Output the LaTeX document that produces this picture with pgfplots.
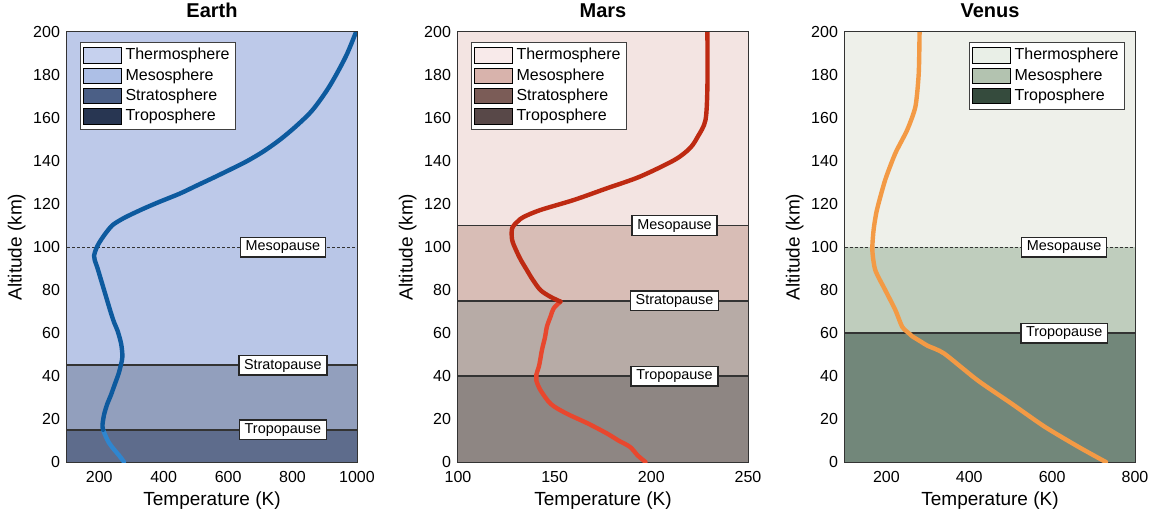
\documentclass[border=0pt]{standalone}
\usepackage{pgfplots}
\pgfplotsset{compat=1.18}
\usepackage{fontspec}
\setmainfont{Liberation Sans}

% band fills
\definecolor{eThermo}{HTML}{BDC9E9}
\definecolor{eMeso}{HTML}{B9C6E7}
\definecolor{eStrato}{HTML}{929FBD}
\definecolor{eTropo}{HTML}{5E6C8C}
\definecolor{mThermo}{HTML}{F3E4E2}
\definecolor{mMeso}{HTML}{D8BDB6}
\definecolor{mStrato}{HTML}{B7ABA6}
\definecolor{mTropo}{HTML}{8E8683}
\definecolor{vThermo}{HTML}{EEF0EA}
\definecolor{vMeso}{HTML}{BFCDBD}
\definecolor{vTropo}{HTML}{72877A}
% legend patches
\definecolor{eThermoL}{HTML}{C6D1EE}
\definecolor{eMesoL}{HTML}{ADBFE6}
\definecolor{eStratoL}{HTML}{4B5F86}
\definecolor{eTropoL}{HTML}{283652}
\definecolor{mThermoL}{HTML}{F8EAEA}
\definecolor{mMesoL}{HTML}{D8B3AC}
\definecolor{mStratoL}{HTML}{7B5C57}
\definecolor{mTropoL}{HTML}{584848}
\definecolor{vThermoL}{HTML}{E9EFE7}
\definecolor{vMesoL}{HTML}{B3C3B0}
\definecolor{vTropoL}{HTML}{354B3D}
% temperature profiles
\definecolor{eLine}{HTML}{0D5A9E}
\definecolor{eLineLow}{HTML}{2F86CF}
\definecolor{mLine}{HTML}{BE2A12}
\definecolor{mLineLow}{HTML}{E8472E}
\definecolor{vLine}{HTML}{F39A45}
\definecolor{pauseLine}{HTML}{333333}

\pgfplotsset{
  patch legend/.style={legend image code/.code={\fill[##1] (0pt,-3.9pt) rectangle (19pt,3.9pt);}},
  atmo/.style={
    width=145pt, height=215pt, scale only axis,
    anchor=south west,
    ymin=0, ymax=200, ytick={0,20,...,200},
    axis line style={black!80, line width=0.6pt},
    tick style={black, line width=0.8pt},
    major tick length=2.5pt,
    tick align=inside,
    /pgf/number format/assume math mode=true,
    /pgf/number format/1000 sep={},
    tick label style={font=\fontsize{8}{9.6}\selectfont},
    xticklabel style={yshift=-1pt},
    label style={font=\fontsize{9.5}{11}\selectfont},
    title style={font=\bfseries\fontsize{10}{12}\selectfont, yshift=-2.5pt},
    xlabel={Temperature (K)},
    ylabel={Altitude (km)},
    ylabel style={yshift=-3pt},
    xlabel style={yshift=2pt},
    legend style={draw=black!75, line width=0.5pt, fill=white,
      font=\fontsize{8}{9}\selectfont, inner sep=1pt, row sep=-1.2pt,
      cells={anchor=west}},
    legend cell align=left,
  },
  band/.style={draw=none, forget plot},
  pause/.style={pauseLine, line width=1.2pt, forget plot},
  pausethin/.style={pauseLine, line width=0.5pt, dash pattern=on 1.5pt off 1pt, forget plot},
  prof/.style={line width=2.2pt, line join=round, line cap=round, forget plot},
}
\tikzset{pauselabel/.style={draw=black!85, fill=white, line width=0.7pt, inner xsep=2.6pt, inner ysep=1.6pt,
  font=\fontsize{7.2}{8}\selectfont, text height=5.2pt, text depth=1.4pt}}

\begin{document}
\begin{tikzpicture}
\useasboundingbox (0pt,0pt) rectangle (578.5pt,258pt);

% ---------------- Earth ----------------
\begin{axis}[atmo, at={(33.5pt,27pt)}, title={Earth},
  xmin=100, xmax=1000, xtick={200,400,...,1000},
  legend style={at={(0.045,0.977)}, anchor=north west}]
\addlegendimage{patch legend, fill=eThermoL}\addlegendentry{Thermosphere}
\addlegendimage{patch legend, fill=eMesoL}\addlegendentry{Mesosphere}
\addlegendimage{patch legend, fill=eStratoL}\addlegendentry{Stratosphere}
\addlegendimage{patch legend, fill=eTropoL}\addlegendentry{Troposphere}
\addplot[band, fill=eThermo] coordinates {(100,100) (1000,100) (1000,200) (100,200)} -- cycle;
\addplot[band, fill=eMeso] coordinates {(100,45) (1000,45) (1000,100) (100,100)} -- cycle;
\addplot[band, fill=eStrato] coordinates {(100,15) (1000,15) (1000,45) (100,45)} -- cycle;
\addplot[band, fill=eTropo] coordinates {(100,0) (1000,0) (1000,15) (100,15)} -- cycle;
\addplot[pausethin] coordinates {(100,100) (1000,100)};
\addplot[pause] coordinates {(100,45) (1000,45)};
\addplot[pause] coordinates {(100,15) (1000,15)};
\addplot[prof, eLineLow, smooth, tension=0.5] coordinates {(277,0) (262,3) (245,6) (230,9) (220,12) (212,15)};
\addplot[prof, eLine, smooth, tension=0.5] coordinates {
  (212,15) (210,17) (215,22) (225,27) (236,31) (248,36) (260,41) (267,45)
  (272,49) (268,55) (257,61) (246,65) (235,70) (225,75) (215,80) (205,85)
  (195,90) (186,94) (184,96) (190,99) (200,102) (218,106) (240,110) (265,112.5)
  (290,114.5) (340,118) (390,121.2) (451,124.9) (503,128.6) (554,132.2)
  (605,135.9) (657,139.8) (708,144.3) (760,149.8) (811,156.2) (862,163.7)
  (914,174.6) (965,188.5) (997,200)};
\node[pauselabel] at (axis cs:770,100) {Mesopause};
\node[pauselabel] at (axis cs:770,45) {Stratopause};
\node[pauselabel] at (axis cs:770,15) {Tropopause};
\end{axis}

% ---------------- Mars ----------------
\begin{axis}[atmo, at={(229pt,27pt)}, title={Mars},
  xmin=100, xmax=250, xtick={100,150,200,250},
  legend style={at={(0.045,0.977)}, anchor=north west}]
\addlegendimage{patch legend, fill=mThermoL}\addlegendentry{Thermosphere}
\addlegendimage{patch legend, fill=mMesoL}\addlegendentry{Mesosphere}
\addlegendimage{patch legend, fill=mStratoL}\addlegendentry{Stratosphere}
\addlegendimage{patch legend, fill=mTropoL}\addlegendentry{Troposphere}
\addplot[band, fill=mThermo] coordinates {(100,110) (250,110) (250,200) (100,200)} -- cycle;
\addplot[band, fill=mMeso] coordinates {(100,75) (250,75) (250,110) (100,110)} -- cycle;
\addplot[band, fill=mStrato] coordinates {(100,40) (250,40) (250,75) (100,75)} -- cycle;
\addplot[band, fill=mTropo] coordinates {(100,0) (250,0) (250,40) (100,40)} -- cycle;
\addplot[pauseLine, line width=0.8pt, forget plot] coordinates {(100,110) (250,110)};
\addplot[pause] coordinates {(100,75) (250,75)};
\addplot[pause] coordinates {(100,40) (250,40)};
\addplot[prof, mLineLow, smooth, tension=0.5] coordinates {
  (197,0) (193,3) (189,7) (183,10) (177,13.3) (167,18) (156,22.6) (148,27)
  (142.6,33.5) (140.5,38) (140.5,40.5) (142,45) (143.4,52) (145,58) (146,63)
  (148,68) (149.5,71.5) (153,74.6)};
\addplot[prof, mLine, smooth, tension=0.5] coordinates {
  (153,74.6) (147.7,76.9) (142.6,80) (138.5,85) (135.6,89.3) (132.5,94)
  (130,98.6) (128,103.3) (128,108.7) (131,112) (134,114) (142.6,117.2)
  (160,121.9) (177,127.3) (194,132.7) (212,140.5) (220,146) (224,151.3) (228,159)
  (229,174.6) (229,200)};
\node[pauselabel] at (axis cs:212,110) {Mesopause};
\node[pauselabel] at (axis cs:212,75) {Stratopause};
\node[pauselabel] at (axis cs:212,40) {Tropopause};
\end{axis}

% ---------------- Venus ----------------
\begin{axis}[atmo, at={(422.5pt,27pt)}, title={Venus},
  xmin=100, xmax=800, xtick={200,400,600,800},
  legend style={at={(0.966,0.977)}, anchor=north east}]
\addlegendimage{patch legend, fill=vThermoL}\addlegendentry{Thermosphere}
\addlegendimage{patch legend, fill=vMesoL}\addlegendentry{Mesosphere}
\addlegendimage{patch legend, fill=vTropoL}\addlegendentry{Troposphere}
\addplot[band, fill=vThermo] coordinates {(100,100) (800,100) (800,200) (100,200)} -- cycle;
\addplot[band, fill=vMeso] coordinates {(100,60) (800,60) (800,100) (100,100)} -- cycle;
\addplot[band, fill=vTropo] coordinates {(100,0) (800,0) (800,60) (100,60)} -- cycle;
\addplot[pausethin] coordinates {(100,100) (800,100)};
\addplot[pause] coordinates {(100,60) (800,60)};
\addplot[prof, vLine, smooth, tension=0.4] coordinates {
  (730,0) (720,1) (663,7.1) (582,16.4) (501,27.3) (420,38) (339,50.5)
  (300,54) (283,56) (262,58.5) (254,59.9) (238,62.9) (221.5,70.7) (197,80)
  (173,89.3) (166,98.6) (169,107.9) (177,117.2) (197,131.2) (221.5,143.6)
  (250,154.4) (270,165.3) (278,180.8) (280,200)};
\node[pauselabel] at (axis cs:629,100) {Mesopause};
\node[pauselabel] at (axis cs:629,60) {Tropopause};
\end{axis}
\end{tikzpicture}
\end{document}
